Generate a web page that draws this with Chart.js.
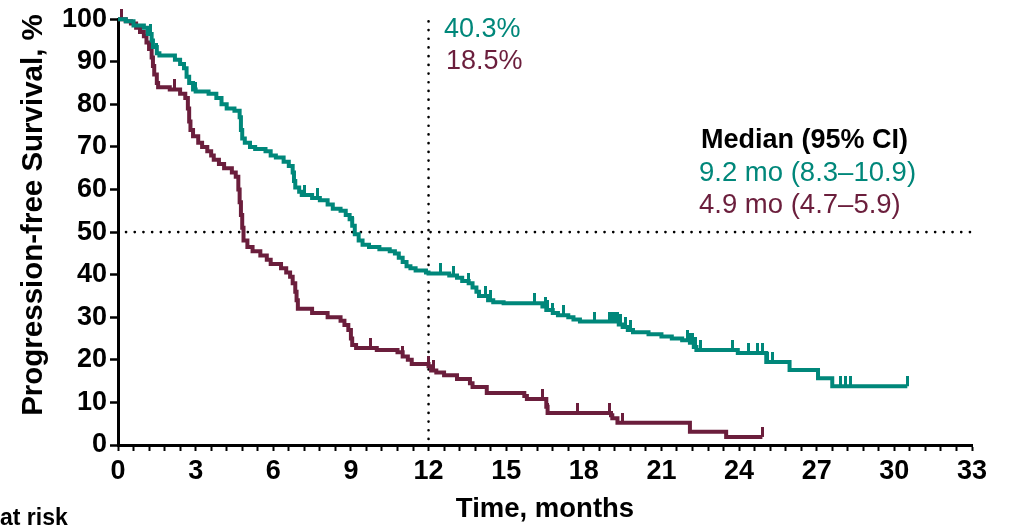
<!DOCTYPE html>
<html>
<head>
<meta charset="utf-8">
<script src="https://cdn.jsdelivr.net/npm/chart.js@4.4.1/dist/chart.umd.min.js"></script>
<style>
  html, body { margin: 0; padding: 0; background: #fff; }
  #wrap { width: 1011px; height: 526px; }
</style>
</head>
<body>
<div id="wrap"><canvas id="km" width="1011" height="526"></canvas></div>
<script>
// Kaplan-Meier steps (time in months, survival in %)
const tealTimes = [0, 0.3, 0.6, 1.0, 1.15, 1.3, 1.35, 1.5, 1.6, 2.2, 2.4, 2.55, 2.65, 2.75, 2.9, 3.0, 3.5, 3.8, 4.0, 4.2, 4.5, 4.7, 4.75, 4.8, 4.9, 5.1, 5.3, 5.7, 5.9, 6.1, 6.4, 6.6, 6.75, 6.8, 6.85, 7.0, 7.1, 7.5, 7.8, 8.1, 8.3, 8.6, 8.8, 8.95, 9.05, 9.15, 9.3, 9.45, 9.7, 10.1, 10.5, 10.7, 10.85, 11.0, 11.15, 11.3, 11.5, 11.9, 12.0, 12.8, 13.1, 13.3, 13.55, 13.7, 13.85, 13.95, 14.3, 14.5, 14.9, 16.4, 16.55, 16.8, 17.0, 17.4, 17.6, 17.85, 19.35, 19.5, 19.7, 19.9, 20.5, 21.0, 21.4, 21.8, 22.1, 22.25, 22.35, 23.95, 25.05, 25.95, 27.05, 27.6, 30.5];
const tealSurv = [100, 99.5, 98.5, 98, 96.5, 95, 93.5, 92, 91.5, 90.5, 89.5, 88.5, 86.5, 85, 83.5, 83, 82.5, 81.5, 80, 79, 78.5, 77, 74, 72, 71, 70, 69.5, 69, 68, 67.5, 66.5, 65.5, 64, 62, 60.5, 59.5, 58.7, 58, 57.5, 56.5, 55.5, 55, 54, 53, 51.5, 49.5, 48, 47, 46.5, 46, 45.5, 45, 44, 43, 42, 41.5, 41, 40.5, 40.3, 39.8, 39.3, 38.5, 38, 37, 36, 35, 34, 33.5, 33.3, 32.5, 31.7, 31, 30.5, 30, 29.5, 29, 28.3, 27.7, 27, 26.5, 26, 25.5, 25, 24.6, 24, 23, 22.3, 21.6, 19.5, 17.6, 15.7, 13.8, 13.8];
const tealCensor = [1.25, 1.5, 2.65, 3.0, 7.2, 7.7, 9.05, 9.15, 12.45, 12.95, 13.55, 14.2, 14.4, 16.1, 16.5, 16.6, 16.8, 17.2, 18.4, 19.0, 19.1, 19.2, 19.3, 19.4, 19.6, 19.8, 22.0, 22.1, 22.2, 22.3, 22.5, 23.75, 24.35, 24.7, 24.9, 25.1, 25.3, 27.9, 28.1, 28.3, 30.5];

const maroonTimes = [0, 0.3, 0.5, 0.7, 0.85, 1.0, 1.1, 1.2, 1.3, 1.35, 1.4, 1.5, 1.55, 2.0, 2.4, 2.6, 2.7, 2.75, 2.8, 2.9, 3.1, 3.25, 3.45, 3.6, 3.7, 3.9, 4.1, 4.4, 4.55, 4.65, 4.7, 4.75, 4.8, 4.85, 5.0, 5.2, 5.5, 5.75, 5.9, 6.3, 6.5, 6.65, 6.75, 6.85, 6.9, 6.95, 7.5, 8.1, 8.6, 8.75, 8.9, 9.0, 9.05, 9.2, 10.0, 10.8, 11.0, 11.2, 11.35, 12.0, 12.1, 12.3, 12.6, 13.1, 13.6, 13.7, 14.25, 15.7, 15.8, 16.55, 16.6, 19.05, 19.1, 19.3, 22.1, 23.5, 24.9];
const maroonSurv = [100, 99.5, 99, 98, 97, 96, 94.5, 93, 91, 89, 87, 85, 84, 83.5, 82.5, 81.5, 79, 76, 74, 72.5, 71, 70, 69, 68, 67, 66, 65, 64, 63, 60, 57, 54, 51, 48, 46.5, 45.5, 44.5, 43.5, 42.5, 41.5, 40.5, 39.5, 38, 36, 34, 32, 31, 30, 29.2, 28.2, 27, 25, 23.5, 22.8, 22.3, 21.8, 20.8, 20, 19, 18.5, 17.5, 17, 16.4, 15.5, 14.5, 13.6, 12.2, 11.5, 10.8, 9, 7.5, 7, 6.3, 5.2, 3.1, 1.9, 1.9];
const maroonCensor = [0.15, 2.2, 9.75, 11.0, 12.0, 12.2, 16.4, 16.6, 17.75, 19.0, 19.5, 24.9];

const xTickLabels = [0, 3, 6, 9, 12, 15, 18, 21, 24, 27, 30, 33];
const yTickLabels = [0, 10, 20, 30, 40, 50, 60, 70, 80, 90, 100];

const tealColor = '#00877A';
const maroonColor = '#6B1E3C';
const fontFam = '"Liberation Sans", Arial, sans-serif';

function toPoints(times, surv) {
    return times.map((t, i) => ({ x: t, y: surv[i] }));
}

// survival value of a curve at time t (last step at or before t)
function survAt(times, surv, t) {
    let s = surv[0];
    for (let i = 0; i < times.length; i++) {
        if (times[i] <= t) s = surv[i];
    }
    return s;
}

function censorPoints(cens, times, surv) {
    return cens.map(t => ({ x: t, y: survAt(times, surv, t) }));
}

// little upward tick used as point style for censored patients
function tickMark(color) {
    const c = document.createElement('canvas');
    c.width = 3;
    c.height = 20;
    const g = c.getContext('2d');
    g.fillStyle = color;
    g.fillRect(0, 0, 3, 10);
    return c;
}

// ticks on x: majors every 3, 4 minors in between
let xTicks = [];
for (let i = 0; i < xTickLabels.length; i++) {
    xTicks.push(xTickLabels[i]);
    if (i < xTickLabels.length - 1) {
        const step = (xTickLabels[i + 1] - xTickLabels[i]) / 5;
        for (let k = 1; k < 5; k++) {
            xTicks.push(Math.round((xTickLabels[i] + step * k) * 100) / 100);
        }
    }
}

const extras = {
    id: 'extras',
    beforeDatasetsDraw(chart) {
        const ctx = chart.ctx;
        const x = chart.scales.x;
        const y = chart.scales.y;
        ctx.save();
        ctx.strokeStyle = '#000';
        ctx.lineWidth = 2.6;
        ctx.lineCap = 'round';
        ctx.setLineDash([0.1, 8.6]);
        // 50% line
        ctx.beginPath();
        ctx.moveTo(x.getPixelForValue(0) + 8, y.getPixelForValue(50));
        ctx.lineTo(x.getPixelForValue(33), y.getPixelForValue(50));
        ctx.stroke();
        // 12 months line
        ctx.beginPath();
        ctx.moveTo(x.getPixelForValue(12), y.getPixelForValue(0) - 6);
        ctx.lineTo(x.getPixelForValue(12), y.getPixelForValue(100) - 5);
        ctx.stroke();
        ctx.restore();
    },
    afterDraw(chart) {
        const ctx = chart.ctx;
        const y = chart.scales.y;
        ctx.save();
        ctx.textBaseline = 'alphabetic';
        ctx.textAlign = 'left';
        ctx.font = '27px ' + fontFam;
        ctx.fillStyle = tealColor;
        ctx.fillText('40.3%', 444, 37);
        ctx.fillStyle = maroonColor;
        ctx.fillText('18.5%', 446, 69);

        ctx.font = 'bold 27px ' + fontFam;
        ctx.fillStyle = '#000';
        ctx.fillText('Median (95% CI)', 701, 148);
        ctx.font = '27.5px ' + fontFam;
        ctx.fillStyle = tealColor;
        ctx.fillText('9.2 mo (8.3\u201310.9)', 699, 181);
        ctx.fillStyle = maroonColor;
        ctx.fillText('4.9 mo (4.7\u20135.9)', 699, 213);

        ctx.font = 'bold 23px ' + fontFam;
        ctx.fillStyle = '#000';
        ctx.fillText('at risk', 0, 525);

        // y axis title
        ctx.translate(34, 215);
        ctx.rotate(-Math.PI / 2);
        ctx.textAlign = 'center';
        ctx.textBaseline = 'middle';
        ctx.font = 'bold 29.5px ' + fontFam;
        ctx.fillText('Progression-free Survival, %', 0, 0);
        ctx.restore();
    }
};

const ctx = document.getElementById('km');

new Chart(ctx, {
    type: 'line',
    data: {
        datasets: [
            {
                data: toPoints(tealTimes, tealSurv),
                borderColor: tealColor,
                borderWidth: 4,
                stepped: 'before',
                pointRadius: 0,
                fill: false,
                clip: false,
            },
            {
                data: toPoints(maroonTimes, maroonSurv),
                borderColor: maroonColor,
                borderWidth: 4,
                stepped: 'before',
                pointRadius: 0,
                fill: false,
                clip: false,
            },
            {
                data: censorPoints(tealCensor, tealTimes, tealSurv),
                showLine: false,
                pointStyle: tickMark(tealColor),
                pointRadius: 4,
                clip: false,
            },
            {
                data: censorPoints(maroonCensor, maroonTimes, maroonSurv),
                showLine: false,
                pointStyle: tickMark(maroonColor),
                pointRadius: 4,
                clip: false,
            },
        ],
    },
    options: {
        responsive: false,
        animation: false,
        layout: { padding: { left: 0, right: 39, top: 19, bottom: 0 } },
        plugins: {
            legend: { display: false },
            tooltip: { enabled: false },
        },
        scales: {
            x: {
                type: 'linear',
                min: 0,
                max: 33,
                afterBuildTicks: (s) => { s.ticks = xTicks.map(v => ({ value: v })); },
                afterFit: (s) => { s.height = 81; },
                ticks: {
                    autoSkip: false,
                    maxRotation: 0,
                    padding: 4,
                    color: '#000',
                    font: { family: fontFam, size: 27, weight: 'bold' },
                    callback: (v) => xTickLabels.includes(v) ? String(v) : '',
                },
                grid: {
                    drawOnChartArea: false,
                    tickLength: 6,
                    tickWidth: 2,
                    tickColor: '#000',
                },
                border: { display: true, color: '#000', width: 3 },
                title: {
                    display: true,
                    text: 'Time, months',
                    color: '#000',
                    font: { family: fontFam, size: 27.5, weight: 'bold' },
                    padding: { top: 0, bottom: 0 },
                },
            },
            y: {
                min: 0,
                max: 100,
                afterBuildTicks: (s) => { s.ticks = yTickLabels.map(v => ({ value: v })); },
                afterFit: (s) => { s.width = 118; },
                ticks: {
                    padding: 3,
                    color: '#000',
                    font: { family: fontFam, size: 27, weight: 'bold' },
                },
                grid: {
                    drawOnChartArea: false,
                    tickLength: 8,
                    tickWidth: 2.5,
                    tickColor: '#000',
                },
                border: { display: true, color: '#000', width: 3 },
            },
        },
    },
    plugins: [extras],
});
</script>
</body>
</html>
